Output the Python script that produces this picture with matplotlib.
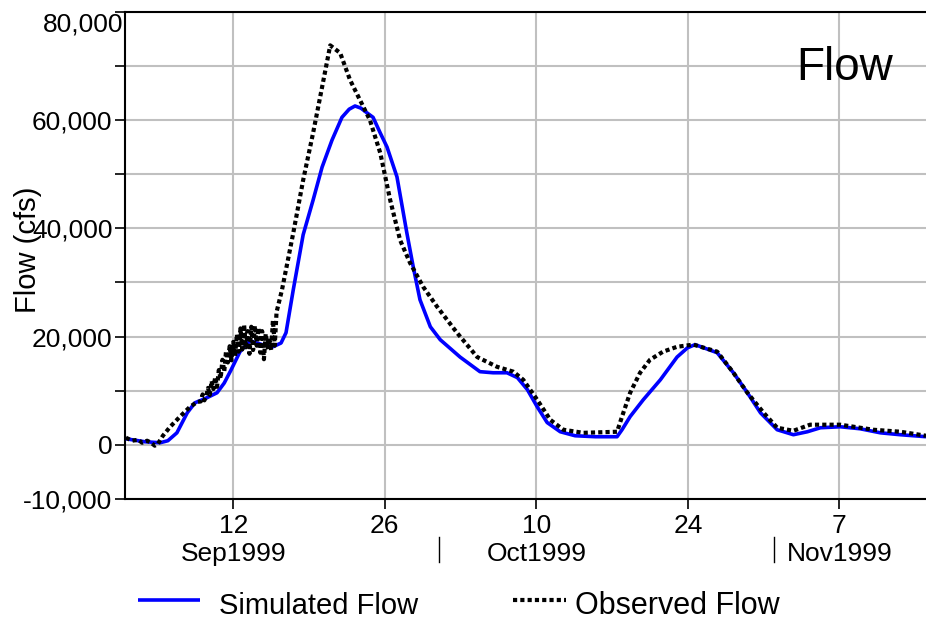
import matplotlib
matplotlib.use("Agg")
import matplotlib.pyplot as plt
import matplotlib.transforms as mtransforms
from matplotlib.lines import Line2D
import pandas as pd

# simulated flow (cfs)
sim_time = ['1999-09-02 02:00', '1999-09-03 20:00', '1999-09-05 06:00', '1999-09-05 23:00',
            '1999-09-06 19:00', '1999-09-07 18:00', '1999-09-08 11:00', '1999-09-09 09:00',
            '1999-09-10 12:00', '1999-09-11 04:00', '1999-09-11 19:00', '1999-09-12 15:00',
            '1999-09-13 13:00', '1999-09-14 16:00', '1999-09-15 16:00', '1999-09-16 10:00',
            '1999-09-16 21:00', '1999-09-17 13:00', '1999-09-18 11:00', '1999-09-19 09:00',
            '1999-09-20 05:00', '1999-09-21 03:00', '1999-09-22 01:00', '1999-09-22 17:00',
            '1999-09-23 06:00', '1999-09-23 19:00', '1999-09-24 09:00', '1999-09-24 22:00',
            '1999-09-25 14:00', '1999-09-26 05:00', '1999-09-27 03:00', '1999-09-28 01:00',
            '1999-09-28 15:00', '1999-09-29 06:00', '1999-09-30 05:00', '1999-10-01 03:00',
            '1999-10-02 23:00', '1999-10-04 19:00', '1999-10-06 00:00', '1999-10-07 07:00',
            '1999-10-08 06:00', '1999-10-09 04:00', '1999-10-10 02:00', '1999-10-11 00:00',
            '1999-10-12 05:00', '1999-10-13 14:00', '1999-10-15 11:00', '1999-10-17 11:00',
            '1999-10-17 22:00', '1999-10-18 16:00', '1999-10-19 21:00', '1999-10-21 11:00',
            '1999-10-23 00:00', '1999-10-23 23:00', '1999-10-24 16:00', '1999-10-26 17:00',
            '1999-10-28 05:00', '1999-10-29 12:00', '1999-10-30 17:00', '1999-11-01 06:00',
            '1999-11-02 18:00', '1999-11-04 01:00', '1999-11-05 06:00', '1999-11-07 02:00',
            '1999-11-08 22:00', '1999-11-10 19:00', '1999-11-12 15:00', '1999-11-15 00:00']
sim_flow = [1100, 550, 370, 740, 2200, 5900, 7750, 8500,
            9600, 11400, 13800, 17200, 19200, 18500, 18100, 18800,
            20700, 28600, 38800, 45200, 51300, 56300, 60500, 62000,
            62600, 62200, 61300, 60500, 57600, 55000, 49500, 39100,
            32900, 26800, 21800, 19400, 16200, 13500, 13300, 13300,
            12400, 10200, 7000, 4100, 2400, 1660, 1480, 1480,
            2770, 5200, 8300, 12000, 16200, 17900, 18500, 17000,
            13300, 9600, 5900, 2770, 1850, 2400, 3140, 3320,
            2950, 2200, 1850, 1480]

# observed flow (cfs), before the noisy stretch
obs_time_a = ['1999-09-02 02:00', '1999-09-02 16:00', '1999-09-03 05:00', '1999-09-03 14:00',
              '1999-09-04 01:00', '1999-09-04 10:00', '1999-09-04 18:00', '1999-09-05 01:00',
              '1999-09-05 12:00', '1999-09-06 04:00', '1999-09-07 02:00', '1999-09-08 00:00',
              '1999-09-08 16:00']
obs_flow_a = [1300, 740, 920, 370, 740, 370, -180, 180,
              1660, 3300, 5200, 7000, 7900]

# noisy stretch, every 4 hours from 9 Sep 00:00 to 16 Sep 00:00
noise_start = '1999-09-09 00:00'
obs_flow_noise = [8000, 9300, 8200, 8900, 10500, 9200, 11800, 10300, 12500, 10700,
                  13800, 12200, 15700, 13500, 17300, 15200, 18200, 15600, 19000, 16400,
                  20400, 17200, 21500, 17600, 22200, 18000, 21000, 16800, 21800, 17500,
                  22000, 18300, 21600, 17000, 21000, 15800, 20500, 18000, 19800, 17500,
                  23000, 18300, 24500]

# observed flow (cfs), after the noisy stretch
obs_time_b = ['1999-09-16 12:00', '1999-09-17 13:00', '1999-09-18 11:00', '1999-09-19 09:00',
              '1999-09-20 05:00', '1999-09-20 23:00', '1999-09-21 21:00', '1999-09-22 19:00',
              '1999-09-23 17:00', '1999-09-24 15:00', '1999-09-25 14:00', '1999-09-26 12:00',
              '1999-09-27 10:00', '1999-09-28 08:00', '1999-09-29 13:00', '1999-09-30 20:00',
              '1999-10-02 16:00', '1999-10-04 13:00', '1999-10-06 09:00', '1999-10-07 21:00',
              '1999-10-08 19:00', '1999-10-10 02:00', '1999-10-11 07:00', '1999-10-12 12:00',
              '1999-10-14 08:00', '1999-10-17 11:00', '1999-10-17 22:00', '1999-10-18 16:00',
              '1999-10-19 14:00', '1999-10-20 12:00', '1999-10-21 17:00', '1999-10-23 00:00',
              '1999-10-24 12:00', '1999-10-26 17:00', '1999-10-28 05:00', '1999-10-29 12:00',
              '1999-10-31 00:00', '1999-11-01 06:00', '1999-11-02 18:00', '1999-11-04 07:00',
              '1999-11-07 02:00', '1999-11-10 03:00', '1999-11-12 15:00', '1999-11-15 00:00']
obs_flow_b = [28600, 39100, 48900, 57600, 66100, 73800, 72400, 67400,
              63700, 60000, 53900, 45200, 37800, 33600, 29200, 25500,
              20700, 16200, 14400, 13500, 12000, 8300, 4600, 2770,
              2200, 2400, 5200, 9600, 13300, 15700, 17200, 18100,
              18500, 17200, 13300, 9600, 5900, 3140, 2580, 3700,
              3700, 2770, 2400, 1660]

day_ticks = ['1999-09-12', '1999-09-26', '1999-10-10', '1999-10-24', '1999-11-07']
day_labels = ['12', '26', '10', '24', '7']
month_labels = ['Sep1999', 'Oct1999', 'Nov1999']
month_label_at = ['1999-09-12', '1999-10-10', '1999-11-07']
month_breaks = ['1999-10-01', '1999-11-01']

y_ticks = [-10000, 0, 10000, 20000, 30000, 40000, 50000, 60000, 70000, 80000]
y_labels = ['-10,000', '0', '', '20,000', '', '40,000', '', '60,000', '', '']

plt.rcParams['font.family'] = ['Liberation Sans', 'DejaVu Sans']

fig = plt.figure(figsize=(9.26, 6.22), dpi=100)
ax = fig.add_axes([0.135, 0.198, 0.865, 0.783])

simT = pd.to_datetime(sim_time)
obsT = (list(pd.to_datetime(obs_time_a))
        + list(pd.date_range(noise_start, periods=len(obs_flow_noise), freq='4h'))
        + list(pd.to_datetime(obs_time_b)))
obsV = obs_flow_a + obs_flow_noise + obs_flow_b

simStyle = dict(color='#0000ff', linewidth=2.6, solid_capstyle='butt')
obsStyle = dict(color='black', linewidth=3, linestyle=(0, (1, 0.75)), dash_capstyle='butt')

ax.plot(simT, sim_flow, zorder=3, **simStyle)
ax.plot(obsT, obsV, zorder=4, **obsStyle)

ax.set_xlim(pd.Timestamp('1999-09-02'), pd.Timestamp('1999-11-15'))
ax.set_ylim(-10000, 80000)

ax.set_xticks(pd.to_datetime(day_ticks))
ax.set_xticklabels(day_labels)
ax.set_yticks(y_ticks)
ax.set_yticklabels(y_labels)
ax.tick_params(axis='both', direction='out', length=7, width=1.2, labelsize=19)
ax.tick_params(axis='x', pad=4)
ax.tick_params(axis='y', pad=2)

ax.grid(True, color='#c0c0c0', linewidth=1.5, zorder=0)
ax.set_axisbelow(True)
for side in ['left', 'top', 'bottom']:
    ax.spines[side].set_linewidth(1.5)
ax.spines['right'].set_visible(False)

# top tick label is pushed inside the figure
ax.text(-0.002, 0.998, '80,000', transform=ax.transAxes, ha='right', va='top', fontsize=19)

fig.text(28 / 926, 1 - 250 / 622, 'Flow (cfs)', rotation=90, ha='center', va='center', fontsize=21)
ax.text(0.959, 0.885, 'Flow', transform=ax.transAxes, ha='right', va='center', fontsize=33)

# month row
trans = mtransforms.blended_transform_factory(ax.transData, ax.transAxes)
for lab, at in zip(month_labels, month_label_at):
    ax.text(pd.Timestamp(at), -0.113, lab, transform=trans, ha='center', va='center',
            fontsize=19, clip_on=False)
for b in month_breaks:
    ax.plot([pd.Timestamp(b)] * 2, [-0.078, -0.129], transform=trans, color='black',
            linewidth=1.0, clip_on=False)

# legend below the plot
yLeg = 1 - 600 / 622
fig.add_artist(Line2D([138 / 926, 200 / 926], [yLeg, yLeg], transform=fig.transFigure, **simStyle))
fig.add_artist(Line2D([513 / 926, 566 / 926], [yLeg, yLeg], transform=fig.transFigure, **obsStyle))
fig.text(219 / 926, 1 - 614 / 622, 'Simulated Flow', va='baseline', fontsize=21)
fig.text(575 / 926, 1 - 614 / 622, 'Observed Flow', va='baseline', fontsize=22)

fig.savefig('out.png', dpi=100)
